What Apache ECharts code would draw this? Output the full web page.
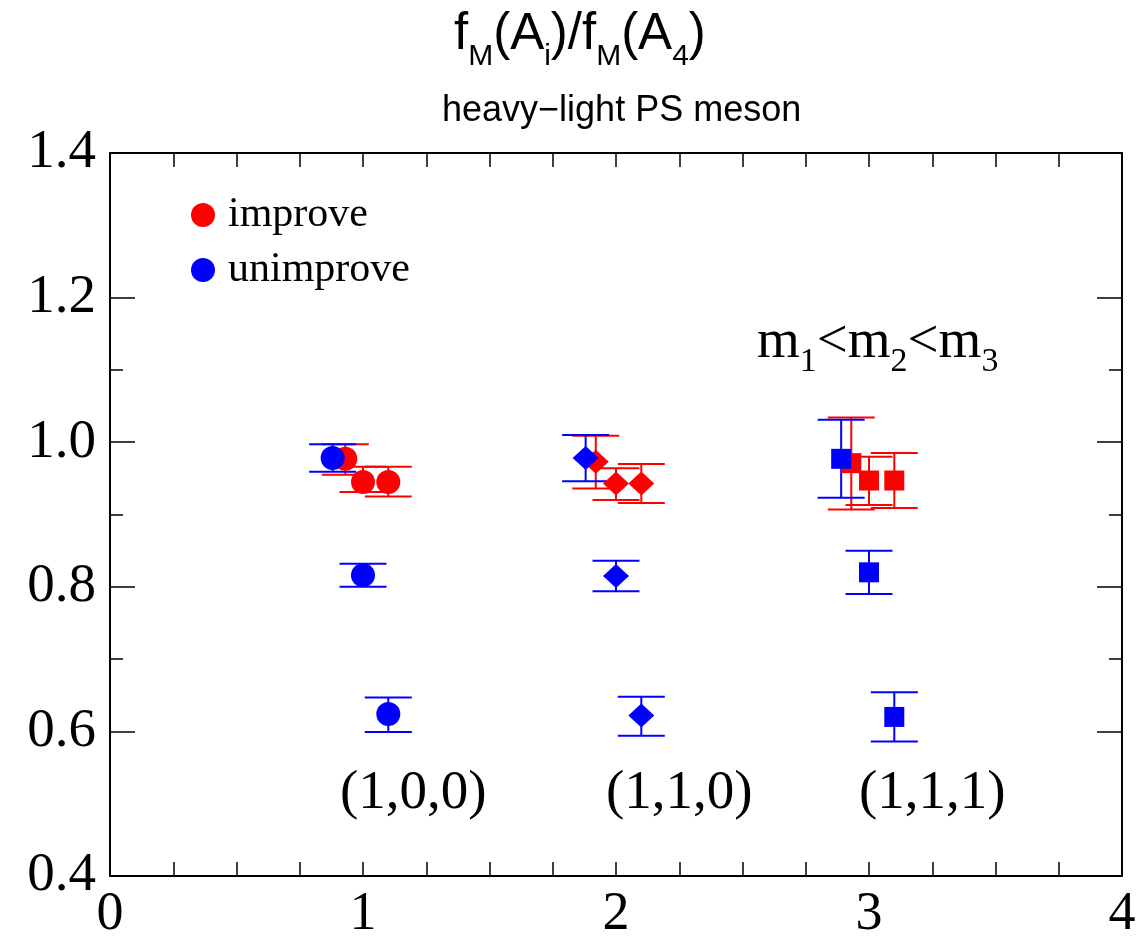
<!DOCTYPE html>
<html>
<head>
<meta charset="utf-8">
<script src="https://cdn.jsdelivr.net/npm/echarts@6/dist/echarts.min.js"></script>
<style>
html,body{margin:0;padding:0;background:#fff;}
#chart{width:1141px;height:943px;}
</style>
</head>
<body>
<div id="chart"></div>
<script>
// ---- data ----
const groupLabels = ['(1,0,0)', '(1,1,0)', '(1,1,1)'];
const groupSymbols = ['circle', 'diamond', 'rect'];
const pointGroup = [0, 0, 0, 1, 1, 1, 2, 2, 2];

const improveX  = [0.93, 1.00, 1.10, 1.92, 2.00, 2.10, 2.93, 3.00, 3.10];
const improveY  = [0.977, 0.945, 0.945, 0.973, 0.943, 0.943, 0.971, 0.947, 0.947];
const improveLo = [0.955, 0.931, 0.925, 0.936, 0.920, 0.916, 0.907, 0.913, 0.909];
const improveHi = [0.997, 0.966, 0.966, 1.009, 0.964, 0.970, 1.034, 0.980, 0.985];

const unimproveX  = [0.88, 1.00, 1.10, 1.88, 2.00, 2.10, 2.89, 3.00, 3.10];
const unimproveY  = [0.978, 0.816, 0.624, 0.978, 0.815, 0.622, 0.977, 0.820, 0.620];
const unimproveLo = [0.959, 0.800, 0.599, 0.946, 0.794, 0.594, 0.923, 0.790, 0.586];
const unimproveHi = [0.997, 0.832, 0.647, 1.010, 0.836, 0.648, 1.031, 0.850, 0.654];

const xTickLabels = ['0', '1', '2', '3', '4'];
const yTickLabels = ['0.4', '0.6', '0.8', '1.0', '1.2', '1.4'];
const yMinorTicks = [0.7, 0.9, 1.1];

// ---- helpers ----
const SERIF = '"Liberation Serif", "Times New Roman", serif';
const SANS = '"Liberation Sans", Arial, sans-serif';
const RED = '#ff0000', BLUE = '#0000ff';

function symbolSizeFor(sym) {
  if (sym === 'circle') return 24;
  if (sym === 'diamond') return [26, 24];
  return 20;
}
function markerData(xs, ys) {
  return xs.map((x, i) => {
    const sym = groupSymbols[pointGroup[i]];
    return { value: [x, ys[i]], symbol: sym, symbolSize: symbolSizeFor(sym) };
  });
}
function errData(xs, lo, hi) {
  return xs.map((x, i) => [x, lo[i], hi[i]]);
}
function errRender(color) {
  return function (params, api) {
    const x = api.value(0);
    const pl = api.coord([x, api.value(1)]);
    const ph = api.coord([x, api.value(2)]);
    const hw = 23.5;
    const st = { stroke: color, lineWidth: 2 };
    return {
      type: 'group',
      children: [
        { type: 'line', shape: { x1: pl[0], y1: pl[1], x2: ph[0], y2: ph[1] }, style: st },
        { type: 'line', shape: { x1: pl[0] - hw, y1: pl[1], x2: pl[0] + hw, y2: pl[1] }, style: st },
        { type: 'line', shape: { x1: ph[0] - hw, y1: ph[1], x2: ph[0] + hw, y2: ph[1] }, style: st }
      ]
    };
  };
}

const axisLineStyle = { show: true, lineStyle: { color: '#000', width: 2 } };

const chart = echarts.init(document.getElementById('chart'), null, { renderer: 'canvas' });

const option = {
  backgroundColor: '#fff',
  animation: false,
  title: [
    {
      text: '{m|f}{s|M}{m|(A}{s|i}{m|)/f}{s|M}{m|(A}{s|4}{m|)}',
      left: 449, top: 4,
      textStyle: {
        fontWeight: 'normal',
        rich: {
          m: { fontFamily: SANS, fontWeight: 'normal', fontSize: 51, lineHeight: 58, verticalAlign: 'top', color: '#000' },
          s: { fontFamily: SANS, fontWeight: 'normal', fontSize: 30, lineHeight: 30, verticalAlign: 'top', padding: [33, 0, 0, 0], color: '#000' }
        }
      }
    },
    {
      text: 'heavy\u2212light PS meson',
      left: 437, top: 88,
      textStyle: { fontFamily: SANS, fontSize: 36, fontWeight: 'normal', color: '#000' }
    }
  ],
  legend: {
    orient: 'vertical',
    left: 191, top: 194,
    padding: 0,
    itemWidth: 24, itemHeight: 24,
    itemGap: 13,
    icon: 'circle',
    data: [
      { name: 'improve', itemStyle: { color: RED } },
      { name: 'unimprove', itemStyle: { color: BLUE } }
    ],
    textStyle: { fontFamily: SERIF, fontSize: 42, color: '#000', padding: [0, 0, 0, 8] }
  },
  grid: { left: 110, right: 19, top: 153, bottom: 67, containLabel: false },
  xAxis: [
    {
      type: 'value', min: 0, max: 4, interval: 0.25, position: 'bottom',
      axisLine: axisLineStyle,
      axisTick: { show: true, inside: true, length: 14, lineStyle: { color: '#000', width: 1.5 } },
      splitLine: { show: false },
      axisLabel: {
        margin: 12, fontFamily: SERIF, fontSize: 54, color: '#000',
        formatter: function (v) { return Number.isInteger(v) ? xTickLabels[v] : ''; }
      }
    },
    {
      type: 'value', min: 0, max: 4, interval: 0.25, position: 'top',
      axisLine: axisLineStyle,
      axisTick: { show: true, inside: true, length: 14, lineStyle: { color: '#000', width: 1.5 } },
      splitLine: { show: false },
      axisLabel: { show: false }
    }
  ],
  yAxis: [
    {
      type: 'value', min: 0.4, max: 1.4, interval: 0.2, position: 'left',
      axisLine: axisLineStyle,
      axisTick: { show: true, inside: true, length: 25, lineStyle: { color: '#000', width: 1.5 } },
      splitLine: { show: false },
      axisLabel: {
        margin: 14, fontFamily: SERIF, fontSize: 55, color: '#000',
        formatter: function (v) { return yTickLabels[Math.round((v - 0.4) / 0.2)]; }
      }
    },
    {
      type: 'value', min: 0.4, max: 1.4, position: 'left',
      axisLine: { show: false },
      axisTick: { show: true, inside: true, length: 13, customValues: yMinorTicks, lineStyle: { color: '#000', width: 1.5 } },
      splitLine: { show: false },
      axisLabel: { show: false }
    },
    {
      type: 'value', min: 0.4, max: 1.4, interval: 0.2, position: 'right',
      axisLine: axisLineStyle,
      axisTick: { show: true, inside: true, length: 25, lineStyle: { color: '#000', width: 1.5 } },
      splitLine: { show: false },
      axisLabel: { show: false }
    },
    {
      type: 'value', min: 0.4, max: 1.4, position: 'right',
      axisLine: { show: false },
      axisTick: { show: true, inside: true, length: 13, customValues: yMinorTicks, lineStyle: { color: '#000', width: 1.5 } },
      splitLine: { show: false },
      axisLabel: { show: false }
    }
  ],
  series: [
    {
      name: 'improve_err', type: 'custom', renderItem: errRender(RED),
      encode: { x: 0, y: [1, 2] }, data: errData(improveX, improveLo, improveHi), z: 2
    },
    {
      name: 'improve', type: 'scatter', itemStyle: { color: RED, opacity: 1 },
      data: markerData(improveX, improveY), z: 2
    },
    {
      name: 'unimprove_err', type: 'custom', renderItem: errRender(BLUE),
      encode: { x: 0, y: [1, 2] }, data: errData(unimproveX, unimproveLo, unimproveHi), z: 2
    },
    {
      name: 'unimprove', type: 'scatter', itemStyle: { color: BLUE, opacity: 1 },
      data: markerData(unimproveX, unimproveY), z: 2
    }
  ],
  graphic: [
    {
      type: 'text', left: 757, top: 315,
      style: {
        text: '{m|m}{s|1}{m|<m}{s|2}{m|<m}{s|3}',
        rich: {
          m: { fontFamily: SERIF, fontSize: 55, lineHeight: 60, verticalAlign: 'top', fill: '#000' },
          s: { fontFamily: SERIF, fontSize: 34, lineHeight: 34, verticalAlign: 'top', padding: [30, 0, 0, 0], fill: '#000' }
        }
      }
    },
    {
      type: 'text', left: 340, top: 766,
      style: { text: groupLabels[0], font: '55px ' + SERIF, fill: '#000' }
    },
    {
      type: 'text', left: 606, top: 766,
      style: { text: groupLabels[1], font: '55px ' + SERIF, fill: '#000' }
    },
    {
      type: 'text', left: 859, top: 766,
      style: { text: groupLabels[2], font: '55px ' + SERIF, fill: '#000' }
    }
  ]
};
chart.setOption(option);
</script>
</body>
</html>
